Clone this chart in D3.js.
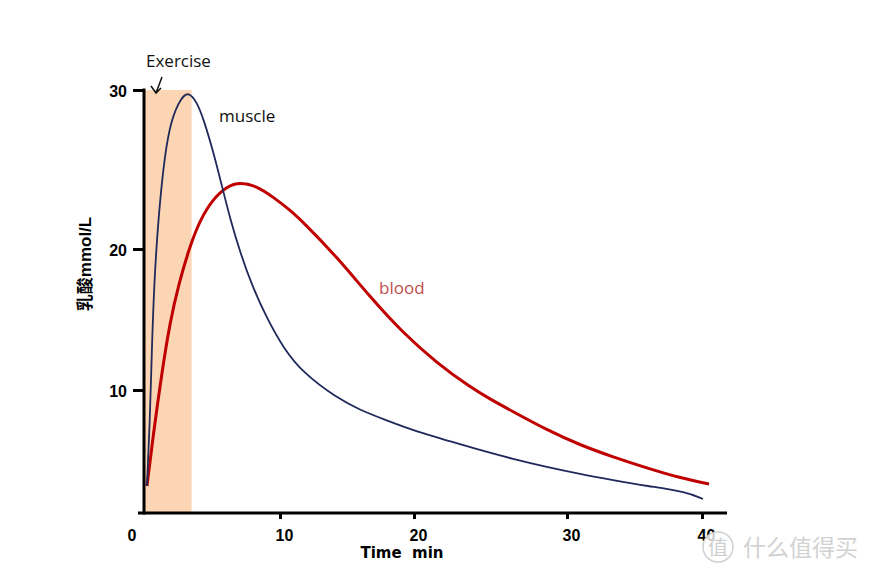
<!DOCTYPE html>
<html><head><meta charset="utf-8">
<script src="https://cdn.jsdelivr.net/npm/d3@7"></script>
<style>body{margin:0;background:#fff}svg{display:block}</style>
</head><body>
<script>
// ---- data ----
const xTicks = [10, 20, 30, 40];
const yTicks = [10, 20, 30];
const exercise = [0, 3.5];
const muscleT = [0.22, 0.44, 0.57, 0.74, 1.05, 1.54, 2.04, 2.72, 3.26, 3.88, 4.36, 5.10, 5.71, 6.32, 7.06, 7.92, 9.02, 10.25, 11.72, 14.25, 15.97, 17.69, 20.39, 24.31, 26.47, 28.69, 30.96, 33.41, 35.93, 38.89, 40.07];
const muscleV = [3.21, 8.02, 12.70, 17.45, 21.95, 26.10, 28.24, 29.50, 29.90, 29.26, 28.22, 26.12, 24.03, 21.95, 19.79, 17.45, 15.11, 12.98, 11.21, 9.43, 8.59, 7.95, 6.96, 5.76, 5.12, 4.55, 4.06, 3.63, 3.21, 2.79, 2.29];
const bloodT = [0.22, 0.66, 1.32, 1.91, 2.57, 3.38, 4.12, 5.07, 6.10, 7.06, 8.31, 9.49, 10.75, 11.72, 14.25, 16.72, 19.18, 21.50, 23.66, 24.97, 26.27, 28.69, 30.96, 33.41, 35.93, 38.37, 40.52];
const bloodV = [3.21, 6.68, 11.28, 14.82, 17.59, 20.19, 21.82, 23.14, 23.95, 24.20, 23.95, 23.27, 22.45, 21.70, 19.43, 16.60, 14.04, 11.91, 10.21, 9.36, 8.59, 7.17, 6.11, 5.26, 4.48, 3.78, 3.35];

const W = 870, H = 575;
const svg = d3.select("body").append("svg").attr("width", W).attr("height", H);
svg.append("rect").attr("width", W).attr("height", H).attr("fill", "#fff");

const x = d3.scaleLinear().domain([0, 10, 20, 30, 40]).range([144, 280, 414, 567, 702]);
const y = d3.scaleLinear().domain([1.3, 10, 20, 30]).range([513, 390, 249, 90]);
const y0 = y.range()[0];

// exercise shading
svg.append("rect")
  .attr("x", x(exercise[0])).attr("y", y(30))
  .attr("width", x(exercise[1]) - x(exercise[0]))
  .attr("height", y0 - y(30))
  .attr("fill", "#fcd5b4");

const line = d3.line().x(d => x(d[0])).y(d => y(d[1])).curve(d3.curveBasis);

svg.append("path").datum(d3.zip(bloodT, bloodV)).attr("d", line)
  .attr("fill", "none").attr("stroke", "#c00000").attr("stroke-width", 3).attr("stroke-linejoin", "round");
svg.append("path").datum(d3.zip(muscleT, muscleV)).attr("d", line)
  .attr("fill", "none").attr("stroke", "#1f2a5a").attr("stroke-width", 1.8).attr("stroke-linejoin", "round");

// axes
const fontAx = "'Liberation Sans', Arial, sans-serif";
const gx = svg.append("g").attr("transform", `translate(0,${y0})`)
  .call(d3.axisBottom(x).tickValues(xTicks).tickSize(6).tickPadding(11).tickSizeOuter(0));
gx.select(".domain").remove();
gx.selectAll(".tick line").attr("stroke", "#000").attr("stroke-width", 3);
gx.selectAll(".tick text").attr("dx", 4).attr("font-family", fontAx).attr("font-weight", "bold").attr("font-size", 16).attr("fill", "#000");
gx.append("line").attr("x1", x(0) - 6).attr("x2", x(40) + 25).attr("y1", 0).attr("y2", 0)
  .attr("stroke", "#000").attr("stroke-width", 3);
gx.append("text").attr("x", x(0) - 12).attr("y", 17).attr("dy", "0.71em").attr("fill", "#000")
  .attr("text-anchor", "middle").attr("font-family", fontAx).attr("font-weight", "bold").attr("font-size", 16).text("0");

const gy = svg.append("g").attr("transform", `translate(${x(0)},0)`)
  .call(d3.axisLeft(y).tickValues(yTicks).tickSize(11).tickPadding(6).tickSizeOuter(0));
gy.select(".domain").remove();
gy.selectAll(".tick line").attr("stroke", "#000").attr("stroke-width", 3);
gy.selectAll(".tick text").attr("dy", "0.4em").attr("font-family", fontAx).attr("font-weight", "bold").attr("font-size", 16).attr("fill", "#000");
gy.append("line").attr("x1", 0).attr("x2", 0).attr("y1", y(30) - 1.5).attr("y2", y0 + 1.5)
  .attr("stroke", "#000").attr("stroke-width", 3);

// axis titles
svg.append("text").attr("x", 402).attr("y", 558).attr("text-anchor", "middle")
  .attr("font-family", "'DejaVu Sans', sans-serif").attr("font-weight", "bold").attr("font-size", 15)
  .attr("xml:space", "preserve").style("white-space", "pre").text("Time  min");
svg.append("text").attr("transform", "translate(91,264) rotate(-90)").attr("text-anchor", "middle")
  .attr("font-family", "'Liberation Sans', 'Noto Sans CJK SC', sans-serif").attr("font-weight", "bold").attr("font-size", 17)
  .text("乳酸mmol/L");

// annotations
const fontLab = "'Open Sans', sans-serif";
svg.append("text").attr("x", 146).attr("y", 67).attr("font-family", fontLab).attr("font-size", 17).attr("fill", "#111").text("Exercise");
svg.append("path").attr("d", "M162,77 L156,93 M151,86 L156,93 L161,88")
  .attr("fill", "none").attr("stroke", "#111").attr("stroke-width", 1.5);
svg.append("text").attr("x", 219).attr("y", 122).attr("font-family", fontLab).attr("font-size", 17).attr("fill", "#111").text("muscle");
svg.append("text").attr("x", 379).attr("y", 294).attr("font-family", fontLab).attr("font-size", 17).attr("fill", "#c0504d").text("blood");

// watermark
const wm = svg.append("g");
wm.append("circle").attr("cx", 718).attr("cy", 547).attr("r", 15).attr("fill", "rgba(255,255,255,0.8)").attr("stroke", "#d0d0d0").attr("stroke-width", 1.5);
wm.append("text").attr("x", 718).attr("y", 555).attr("text-anchor", "middle").attr("font-family", "'Noto Sans CJK SC', sans-serif").attr("font-size", 20).attr("fill", "#cfcfcf").text("值");
wm.append("text").attr("x", 743).attr("y", 556).attr("font-family", "'Noto Sans CJK SC', sans-serif").attr("font-size", 23).attr("fill", "#d2d2d2").text("什么值得买");
</script>
</body></html>
